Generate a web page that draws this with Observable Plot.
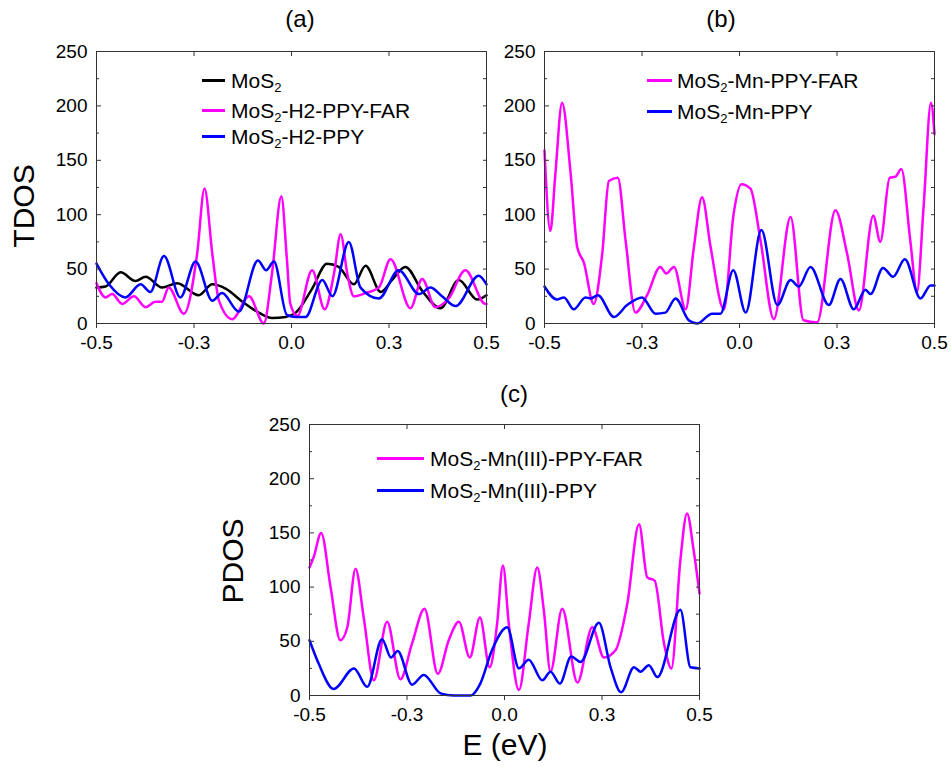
<!DOCTYPE html>
<html><head><meta charset="utf-8">
<script src="https://cdn.jsdelivr.net/npm/d3@7"></script>
<script src="https://cdn.jsdelivr.net/npm/@observablehq/plot@0.6"></script>
<style>
html,body{margin:0;padding:0;background:#fff;}
#root{position:relative;width:951px;height:767px;overflow:hidden;font-family:"Liberation Sans",Arial,sans-serif;color:#000;background:#fff;}
.panel{position:absolute;}
.title{position:absolute;font-size:24px;transform:translate(-50%,-50%);white-space:nowrap;line-height:1;}
.ylab{position:absolute;font-size:30px;transform:translate(-50%,-50%) rotate(-90deg);white-space:nowrap;line-height:1;}
.xlab{position:absolute;font-size:30px;transform:translate(-50%,-50%);white-space:nowrap;line-height:1;}
.leg{position:absolute;display:flex;align-items:center;height:24px;font-size:21px;white-space:nowrap;line-height:1;}
.leg .sw{display:inline-block;height:3px;}
.leg sub{font-size:0.62em;vertical-align:-0.32em;line-height:0;}
</style></head><body><div id="root"></div><script>
// ---------- data ----------
const xTicks = [-0.5, -0.25, 0, 0.25, 0.5];
const xTickLabels = ["-0.5", "-0.3", "0.0", "0.3", "0.5"];
const yTicks = [0, 50, 100, 150, 200, 250];
const yMinorTicks = [25, 75, 125, 175, 225];
const yAllTicks = [0, 25, 50, 75, 100, 125, 150, 175, 200, 225, 250];

const panelTitles = ["(a)", "(b)", "(c)"];
const yLabels = ["TDOS", "PDOS"];
const xLabel = "E (eV)";

const namesA = ["MoS2", "MoS2-H2-PPY-FAR", "MoS2-H2-PPY"];
const namesB = ["MoS2-Mn-PPY-FAR", "MoS2-Mn-PPY"];
const namesC = ["MoS2-Mn(III)-PPY-FAR", "MoS2-Mn(III)-PPY"];
const colorsA = ["#000000", "#ff00ff", "#0000ff"];
const colorsB = ["#ff00ff", "#0000ff"];
const colorsC = ["#ff00ff", "#0000ff"];

// panel (a)
const a_MoS2 = [[-0.5,33],[-0.477,34],[-0.438,47],[-0.400,39],[-0.374,43],[-0.332,33],[-0.293,37],[-0.238,26],[-0.203,36],[-0.169,32],[-0.126,20],[-0.084,10],[-0.050,5],[-0.015,6],[0.011,10],[0.053,32],[0.091,55],[0.121,52],[0.160,36],[0.190,53],[0.229,29],[0.258,40],[0.292,52],[0.335,30],[0.382,14],[0.429,40],[0.476,22],[0.5,26]];
const a_H2PPYFAR = [[-0.5,37],[-0.477,24],[-0.460,27],[-0.434,18],[-0.404,25],[-0.374,15],[-0.349,20],[-0.332,20],[-0.315,33],[-0.276,9],[-0.242,64],[-0.223,124],[-0.203,64],[-0.186,21],[-0.152,4],[-0.109,25],[-0.071,0],[-0.050,46],[-0.026,117],[-0.012,60],[-0.003,18],[0.015,7],[0.053,49],[0.085,13],[0.109,46],[0.126,82],[0.143,46],[0.160,25],[0.190,28],[0.224,33],[0.254,59],[0.305,14],[0.335,41],[0.369,15],[0.403,23],[0.446,49],[0.497,18],[0.5,18]];
const a_H2PPY = [[-0.5,55],[-0.468,36],[-0.426,24],[-0.387,36],[-0.362,29],[-0.327,62],[-0.285,24],[-0.246,57],[-0.203,21],[-0.178,28],[-0.135,11],[-0.086,58],[-0.065,49],[-0.045,57],[-0.012,8],[0.011,6],[0.036,6],[0.079,40],[0.105,25],[0.147,75],[0.177,33],[0.224,23],[0.275,49],[0.327,27],[0.356,33],[0.386,25],[0.421,16],[0.480,44],[0.5,36]];

// panel (b)
const b_MnPPYFAR = [[-0.5,159],[-0.485,85],[-0.472,138],[-0.455,203],[-0.433,138],[-0.416,70],[-0.399,56],[-0.374,18],[-0.352,64],[-0.335,131],[-0.312,134],[-0.292,76],[-0.267,10],[-0.237,26],[-0.203,52],[-0.188,46],[-0.168,52],[-0.138,13],[-0.117,70],[-0.096,116],[-0.074,70],[-0.040,13],[-0.015,101],[0.005,128],[0.028,124],[0.054,76],[0.088,4],[0.131,98],[0.164,3],[0.199,1],[0.246,104],[0.276,64],[0.306,12],[0.343,99],[0.361,75],[0.385,134],[0.400,135],[0.415,142],[0.438,76],[0.455,29],[0.472,107],[0.491,203],[0.5,174]];
const b_MnPPY = [[-0.5,34],[-0.468,22],[-0.450,24],[-0.425,13],[-0.395,24],[-0.382,23],[-0.363,26],[-0.322,6],[-0.288,17],[-0.250,24],[-0.215,9],[-0.190,10],[-0.164,23],[-0.130,3],[-0.109,0],[-0.070,9],[-0.049,9],[-0.016,49],[0.016,10],[0.056,86],[0.097,17],[0.131,40],[0.152,34],[0.182,52],[0.229,17],[0.259,41],[0.293,13],[0.323,31],[0.336,27],[0.368,51],[0.394,43],[0.424,59],[0.464,23],[0.490,35],[0.5,35]];

// panel (c)
const c_MnIIIPPYFAR = [[-0.5,118],[-0.489,128],[-0.470,150],[-0.446,100],[-0.421,51],[-0.403,63],[-0.382,117],[-0.361,72],[-0.335,14],[-0.301,68],[-0.267,15],[-0.237,48],[-0.205,80],[-0.171,20],[-0.143,51],[-0.117,68],[-0.089,35],[-0.063,72],[-0.038,26],[-0.019,66],[-0.004,120],[0.011,66],[0.037,5],[0.062,66],[0.084,118],[0.101,78],[0.118,22],[0.148,80],[0.187,12],[0.225,63],[0.255,35],[0.285,42],[0.315,85],[0.345,158],[0.366,109],[0.385,106],[0.409,48],[0.428,25],[0.451,125],[0.468,168],[0.485,134],[0.5,94]];
const c_MnIIIPPY = [[-0.5,51],[-0.476,29],[-0.438,6],[-0.386,25],[-0.352,8],[-0.314,52],[-0.291,35],[-0.274,41],[-0.237,10],[-0.207,19],[-0.164,2],[-0.130,0],[-0.087,0],[-0.062,11],[-0.032,42],[0.007,63],[0.037,25],[0.062,33],[0.097,14],[0.118,22],[0.142,11],[0.171,36],[0.195,31],[0.242,67],[0.272,26],[0.299,3],[0.332,26],[0.349,22],[0.370,28],[0.392,17],[0.451,79],[0.477,26],[0.5,25]];

// ---------- layout ----------
const root = document.getElementById("root");
const FONT = "'Liberation Sans', Arial, sans-serif";

function makePanel(cfg) {
  const chart = Plot.plot({
    width: cfg.width, height: cfg.height,
    marginLeft: cfg.ml, marginRight: cfg.mr, marginTop: cfg.mt, marginBottom: cfg.mb,
    x: {domain: [-0.5, 0.5]},
    y: {domain: [0, 250]},
    style: {fontFamily: FONT, fontSize: "19px", color: "#000", background: "transparent", overflow: "visible"},
    marks: [
      ...cfg.series.map(s => Plot.line(s.data, {x: d => d[0], y: d => d[1], stroke: s.color, strokeWidth: 2.5, curve: "monotone-x", strokeLinejoin: "round"})),
      Plot.frame({stroke: "#333", strokeWidth: 1}),
      Plot.axisX(xTicks, {anchor: "bottom", tickSize: 5, tickPadding: 7, tickFormat: d => xTickLabels[xTicks.indexOf(d)], label: null, stroke: "#333"}),
      Plot.axisX(xTicks, {anchor: "top", tickSize: -4, tickFormat: () => "", label: null, stroke: "#333"}),
      Plot.axisY(yTicks, {anchor: "left", tickSize: -5, tickPadding: 14, label: null, stroke: "#333"}),
      Plot.axisY(yMinorTicks, {anchor: "left", tickSize: -3, tickFormat: () => "", label: null, stroke: "#333"}),
      Plot.axisY(yAllTicks, {anchor: "right", tickSize: -4, tickFormat: () => "", label: null, stroke: "#333"})
    ]
  });
  const wrap = document.createElement("div");
  wrap.className = "panel";
  wrap.style.left = cfg.left + "px";
  wrap.style.top = cfg.top + "px";
  wrap.appendChild(chart);
  root.appendChild(wrap);
}

function addText(cls, text, x, y) {
  const d = document.createElement("div");
  d.className = cls;
  d.textContent = text;
  d.style.left = x + "px";
  d.style.top = y + "px";
  root.appendChild(d);
}

function legendHTML(name) {
  return name.replace(/^MoS2/, "MoS<sub>2</sub>");
}

function addLegend(names, colors, x, swW, gap, rows) {
  names.forEach((n, i) => {
    const d = document.createElement("div");
    d.className = "leg";
    d.style.left = x + "px";
    d.style.top = (rows[i] - 12) + "px";
    const sw = document.createElement("span");
    sw.className = "sw";
    sw.style.width = swW + "px";
    sw.style.background = colors[i];
    sw.style.marginRight = gap + "px";
    const t = document.createElement("span");
    t.innerHTML = legendHTML(n);
    d.appendChild(sw);
    d.appendChild(t);
    root.appendChild(d);
  });
}

makePanel({left: 0, top: 0, width: 500, height: 350, ml: 96, mr: 14, mt: 51, mb: 27,
  series: [{data: a_MoS2, color: colorsA[0]}, {data: a_H2PPYFAR, color: colorsA[1]}, {data: a_H2PPY, color: colorsA[2]}]});
makePanel({left: 500, top: 0, width: 451, height: 350, ml: 44, mr: 17, mt: 51, mb: 27,
  series: [{data: b_MnPPYFAR, color: colorsB[0]}, {data: b_MnPPY, color: colorsB[1]}]});
makePanel({left: 200, top: 370, width: 551, height: 400, ml: 109, mr: 52, mt: 54, mb: 75,
  series: [{data: c_MnIIIPPYFAR, color: colorsC[0]}, {data: c_MnIIIPPY, color: colorsC[1]}]});

addText("title", panelTitles[0], 300, 19);
addText("title", panelTitles[1], 721, 19);
addText("title", panelTitles[2], 514, 394);
addText("ylab", yLabels[0], 24, 206);
addText("ylab", yLabels[1], 233, 561);
addText("xlab", xLabel, 505, 745);

addLegend(namesA, colorsA, 202, 23, 6, [80, 110, 136]);
addLegend(namesB, colorsB, 647, 25, 5, [80, 111]);
addLegend(namesC, colorsC, 377, 47, 6, [458, 490]);
</script></body></html>
